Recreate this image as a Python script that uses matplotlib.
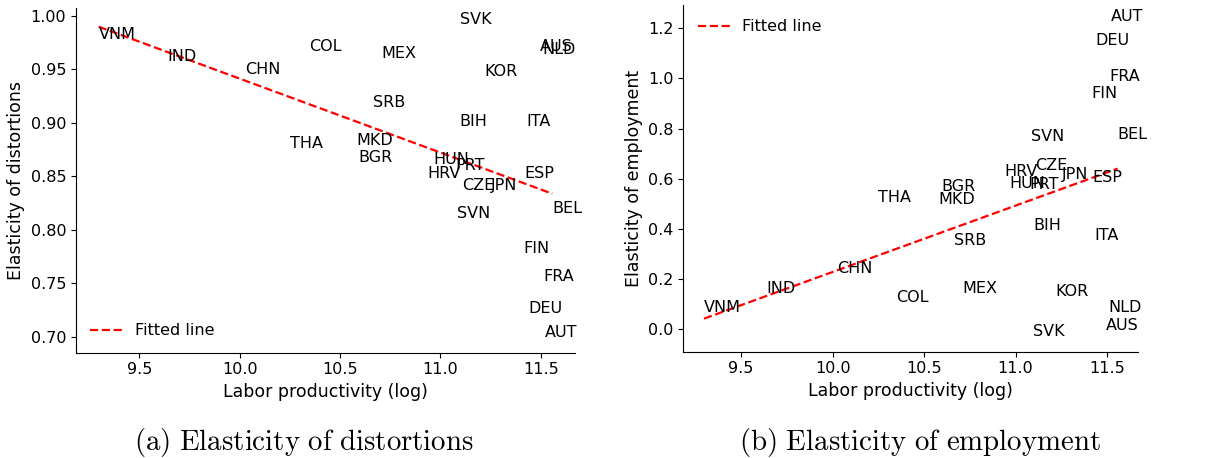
import numpy as np
import matplotlib
import matplotlib.pyplot as plt

matplotlib.use('Agg')
plt.rcParams['mathtext.fontset'] = 'cm'

countries = ['VNM', 'IND', 'CHN', 'COL', 'MEX', 'SVK', 'KOR', 'NLD', 'AUS',
             'ITA', 'BIH', 'SRB', 'THA', 'MKD', 'BGR', 'HRV', 'HUN', 'PRT',
             'CZE', 'JPN', 'ESP', 'SVN', 'BEL', 'FIN', 'FRA', 'DEU', 'AUT']
log_prod = [9.297, 9.64, 10.025, 10.345, 10.708, 11.097, 11.22, 11.51, 11.495,
            11.43, 11.097, 10.662, 10.25, 10.58, 10.592, 10.937, 10.966, 11.077,
            11.107, 11.253, 11.42, 11.085, 11.558, 11.415, 11.513, 11.437, 11.521]
elast_dist = [0.978, 0.958, 0.945, 0.967, 0.9605, 0.9924, 0.944, 0.9637, 0.967,
              0.8965, 0.8965, 0.915, 0.876, 0.879, 0.8636, 0.8485, 0.861, 0.8558,
              0.8374, 0.8374, 0.8485, 0.8113, 0.816, 0.7784, 0.7522, 0.7222, 0.700]
elast_emp = [0.070, 0.144, 0.224, 0.110, 0.144, -0.027, 0.133, 0.070, -0.003,
             0.354, 0.394, 0.334, 0.508, 0.501, 0.550, 0.610, 0.564, 0.560,
             0.634, 0.597, 0.586, 0.750, 0.757, 0.920, 0.990, 1.133, 1.230]

x = np.array(log_prod)
panels = [
    (np.array(elast_dist), 'Elasticity of distortions', 'lower left',
     r'$\mathrm{(a)\ Elasticity\ of\ distortions}$'),
    (np.array(elast_emp), 'Elasticity of employment', 'upper left',
     r'$\mathrm{(b)\ Elasticity\ of\ employment}$'),
]
positions = [[0.0622, 0.2299, 0.4083, 0.7526], [0.5592, 0.2321, 0.3723, 0.757]]
caption_x = [0.2488, 0.7528]

fig = plt.figure(figsize=(12.22, 4.58), dpi=100)
for (y, ylabel, legloc, caption), pos, cx in zip(panels, positions, caption_x):
    ax = fig.add_axes(pos)
    # invisible points so the axes scale to the data
    ax.scatter(x, y, alpha=0)
    for name, xi, yi in zip(countries, x, y):
        ax.annotate(name, (xi, yi), fontsize=11.5)
    slope, intercept = np.polyfit(x, y, 1)
    xs = np.array([x.min(), x.max()])
    ax.plot(xs, intercept + slope * xs, 'r--', lw=1.6, label='Fitted line')
    ax.set_xticks([9.5, 10.0, 10.5, 11.0, 11.5])
    ax.set_xlabel('Labor productivity (log)', fontsize=12.5)
    ax.set_ylabel(ylabel, fontsize=12.5)
    ax.tick_params(labelsize=11.5)
    ax.spines['top'].set_visible(False)
    ax.spines['right'].set_visible(False)
    ax.legend(loc=legloc, frameon=False, fontsize=11.5)
    fig.text(cx, 0.018, caption, ha='center', va='baseline', fontsize=20.8)

fig.savefig('out.png', dpi=100)
